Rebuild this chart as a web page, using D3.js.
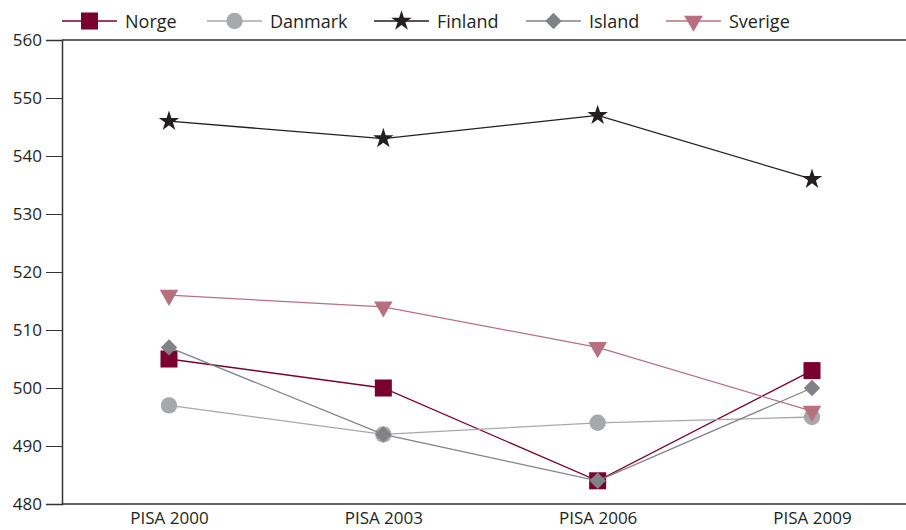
<!DOCTYPE html>
<html>
<head>
<meta charset="utf-8">
<script src="https://cdn.jsdelivr.net/npm/d3@7"></script>
<style>
  body { margin: 0; background: #fff; }
  svg { font-family: "Open Sans", "Noto Sans", sans-serif; }
</style>
</head>
<body>
<svg width="906" height="530"></svg>
<script>
// categories and tick labels
const rounds = ['PISA 2000', 'PISA 2003', 'PISA 2006', 'PISA 2009'];
const yTicks = [480, 490, 500, 510, 520, 530, 540, 550, 560];

// series values
const norge   = [505, 500, 484, 503];
const danmark = [497, 492, 494, 495];
const finland = [546, 543, 547, 536];
const island  = [507, 492, 484, 500];
const sverige = [516, 514, 507, 496];

const series = [
  {name: 'Norge',   values: norge,   color: '#7a0030', symbol: d3.symbolSquare,   size: 290},
  {name: 'Danmark', values: danmark, color: '#a7a8ac', symbol: d3.symbolCircle,   size: 210},
  {name: 'Finland', values: finland, color: '#231f20', symbol: d3.symbolStar,     size: 130},
  {name: 'Island',  values: island,  color: '#808285', symbol: d3.symbolSquare,   size: 135, rotate: 45},
  {name: 'Sverige', values: sverige, color: '#b87080', symbol: d3.symbolTriangle, size: 150, rotate: 180}
];

const svg = d3.select('svg');
const mLeft = 62, mRight = 906, mTop = 40, mBottom = 504;

const x = d3.scalePoint().domain(rounds).range([169, 812]);
const y = d3.scaleLinear().domain([480, 560]).range([mBottom, mTop]);

// frame line on top
svg.append('line').attr('x1', mLeft).attr('x2', mRight).attr('y1', mTop).attr('y2', mTop)
  .attr('stroke', '#333').attr('stroke-width', 1.5);

// y axis
const yAxis = svg.append('g').attr('transform', `translate(${mLeft},0)`)
  .call(d3.axisLeft(y).tickValues(yTicks).tickSize(16).tickPadding(4));
yAxis.select('.domain').attr('stroke', '#333').attr('stroke-width', 1.5);
yAxis.selectAll('.tick line').attr('stroke', '#333').attr('stroke-width', 1);
yAxis.selectAll('.tick text').attr('font-size', 17).attr('fill', '#231f20')
  .attr('font-family', '"Open Sans", "Noto Sans", sans-serif');

// x axis
const xAxis = svg.append('g').attr('transform', `translate(0,${mBottom})`)
  .call(d3.axisBottom(x).tickSize(0).tickPadding(8));
xAxis.select('.domain').remove();
xAxis.append('line').attr('x1', mLeft).attr('x2', mRight)
  .attr('stroke', '#333').attr('stroke-width', 1.5);
xAxis.selectAll('.tick text').attr('font-size', 17).attr('fill', '#231f20')
  .attr('font-family', '"Open Sans", "Noto Sans", sans-serif');

const line = d3.line().x((d, i) => x(rounds[i])).y(d => y(d));

series.forEach(s => {
  const g = svg.append('g');
  g.append('path').datum(s.values).attr('d', line)
    .attr('fill', 'none').attr('stroke', s.color).attr('stroke-width', 1.3);
  g.selectAll('path.mark').data(s.values).join('path').attr('class', 'mark')
    .attr('d', d3.symbol(s.symbol, s.size))
    .attr('transform', (d, i) => `translate(${x(rounds[i])},${y(d)}) rotate(${s.rotate || 0})`)
    .attr('fill', s.color);
});

// legend
const legendX = [62, 207, 374, 526, 666];
const leg = svg.append('g').selectAll('g').data(series).join('g')
  .attr('transform', (d, i) => `translate(${legendX[i]},21)`);
leg.append('line').attr('x1', 0).attr('x2', 55)
  .attr('stroke', d => d.color).attr('stroke-width', 1.3);
leg.append('path')
  .attr('d', d => d3.symbol(d.symbol, d.size)())
  .attr('transform', d => `translate(27.5,0) rotate(${d.rotate || 0})`)
  .attr('fill', d => d.color);
leg.append('text').attr('x', 63).attr('y', 6.5)
  .attr('font-size', 18).attr('fill', '#231f20')
  .text(d => d.name);
</script>
</body>
</html>
